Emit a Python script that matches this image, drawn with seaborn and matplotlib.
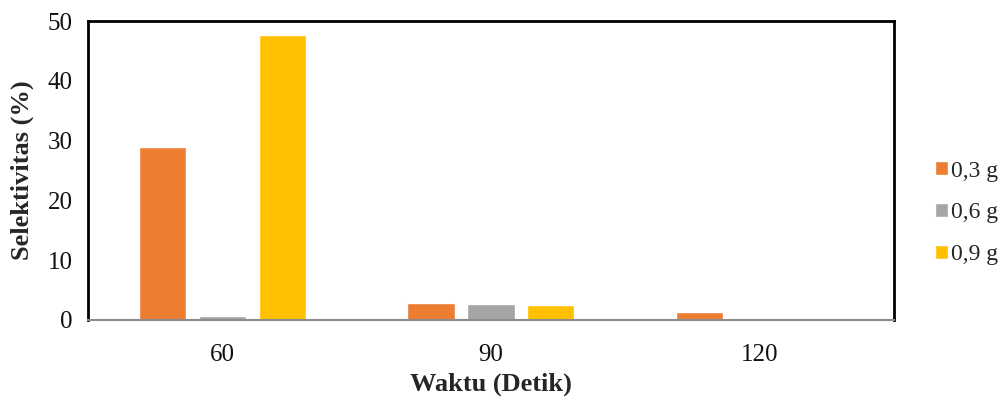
import matplotlib
matplotlib.use("Agg")
import matplotlib.pyplot as plt
import seaborn as sns
import pandas as pd

waktu = ["60", "90", "120"]
massa = ["0,3 g", "0,6 g", "0,9 g"]
sel_03 = [29.0, 2.9, 1.3]
sel_06 = [0.7, 2.6, 0.0]
sel_09 = [47.6, 2.5, 0.0]
warna = ["#ED7D31", "#A5A5A5", "#FFC000"]

rows = []
for m, vals in zip(massa, [sel_03, sel_06, sel_09]):
    for w, v in zip(waktu, vals):
        rows.append({"Waktu": w, "Massa": m, "Selektivitas": v})
df = pd.DataFrame(rows)

sns.set_theme(style="white")
plt.rcParams["font.family"] = ["Liberation Serif", "DejaVu Serif"]

fig = plt.figure(figsize=(10.03, 3.98), dpi=100)
ax = fig.add_axes([0.0877, 0.196, 0.8033, 0.751])

sns.barplot(data=df, x="Waktu", y="Selektivitas", hue="Massa",
            order=waktu, hue_order=massa, palette=warna,
            width=0.67, gap=0.21, saturation=1, ax=ax, errorbar=None)

ax.set_ylim(0, 50)
ax.set_yticks(range(0, 51, 10))
ax.set_xlim(-0.5, 2.5)
ax.tick_params(axis="both", length=0, labelsize=18, colors="#111111")
ax.tick_params(axis="x", pad=17)
ax.tick_params(axis="y", pad=11)
ax.set_xlabel("Waktu (Detik)", fontsize=19, fontweight="bold", labelpad=5)
ax.set_ylabel("Selektivitas (%)", fontsize=19, fontweight="bold", labelpad=10)

for side in ["left", "top", "right"]:
    ax.spines[side].set_color("black")
    ax.spines[side].set_linewidth(2)
ax.spines["bottom"].set_color("#8c8c8c")
ax.spines["bottom"].set_linewidth(1.5)

leg = ax.legend(loc="center left", bbox_to_anchor=(0.932, 0.465),
                bbox_transform=fig.transFigure, frameon=False,
                fontsize=17, handlelength=0.55, handleheight=0.55,
                handletextpad=0.15, labelspacing=0.88,
                borderaxespad=0, borderpad=0)

fig.savefig("out.png", dpi=100)
